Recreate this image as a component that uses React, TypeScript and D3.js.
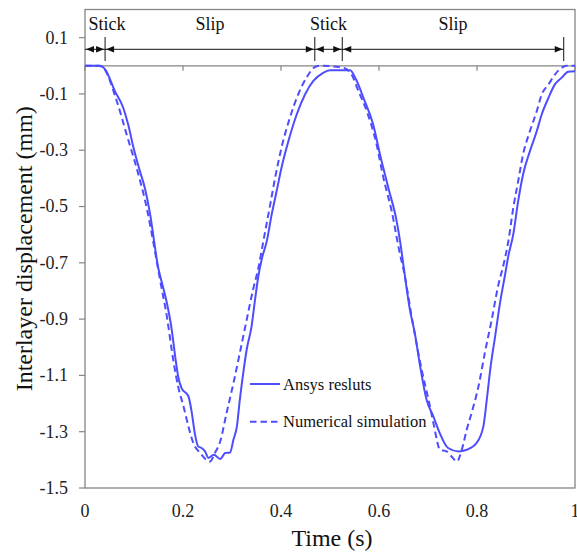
import React from "react";
import * as d3 from "d3";

const ansysT = [0, 0.031, 0.041, 0.061, 0.078, 0.088, 0.099, 0.112, 0.122, 0.133, 0.143, 0.148, 0.157, 0.167, 0.177, 0.184, 0.19, 0.197, 0.211, 0.218, 0.224, 0.231, 0.238, 0.245, 0.252, 0.263, 0.276, 0.286, 0.296, 0.303, 0.31, 0.316, 0.323, 0.33, 0.34, 0.347, 0.354, 0.361, 0.371, 0.381, 0.391, 0.401, 0.415, 0.432, 0.449, 0.466, 0.486, 0.5, 0.541, 0.553, 0.568, 0.588, 0.602, 0.619, 0.636, 0.643, 0.65, 0.663, 0.673, 0.684, 0.697, 0.711, 0.724, 0.741, 0.762, 0.779, 0.799, 0.813, 0.82, 0.827, 0.837, 0.847, 0.857, 0.864, 0.874, 0.884, 0.894, 0.908, 0.922, 0.932, 0.946, 0.959, 0.973, 0.986, 1.0];
const ansysV = [0, 0, -0.013, -0.09, -0.149, -0.208, -0.291, -0.374, -0.433, -0.528, -0.647, -0.705, -0.771, -0.842, -0.937, -1.032, -1.103, -1.145, -1.174, -1.233, -1.305, -1.352, -1.358, -1.37, -1.393, -1.382, -1.397, -1.376, -1.374, -1.328, -1.281, -1.186, -1.091, -1.008, -0.925, -0.831, -0.745, -0.685, -0.623, -0.528, -0.446, -0.362, -0.268, -0.173, -0.102, -0.054, -0.025, -0.016, -0.016, -0.048, -0.113, -0.208, -0.315, -0.433, -0.552, -0.623, -0.71, -0.866, -0.949, -1.068, -1.186, -1.246, -1.305, -1.358, -1.37, -1.364, -1.34, -1.281, -1.186, -1.079, -0.961, -0.842, -0.745, -0.675, -0.599, -0.481, -0.386, -0.303, -0.232, -0.173, -0.113, -0.066, -0.042, -0.021, -0.019];

const numT = [0, 0.027, 0.037, 0.065, 0.085, 0.109, 0.126, 0.139, 0.146, 0.153, 0.167, 0.18, 0.19, 0.201, 0.211, 0.221, 0.235, 0.255, 0.265, 0.276, 0.289, 0.303, 0.316, 0.33, 0.343, 0.354, 0.364, 0.378, 0.388, 0.401, 0.418, 0.435, 0.452, 0.469, 0.48, 0.527, 0.544, 0.558, 0.575, 0.595, 0.609, 0.626, 0.643, 0.65, 0.67, 0.687, 0.701, 0.711, 0.718, 0.724, 0.738, 0.748, 0.759, 0.769, 0.779, 0.789, 0.803, 0.816, 0.83, 0.843, 0.855, 0.864, 0.874, 0.884, 0.894, 0.908, 0.922, 0.932, 0.946, 0.959, 0.973, 0.982, 1.0];
const numV = [0, 0, -0.007, -0.126, -0.244, -0.386, -0.505, -0.623, -0.69, -0.759, -0.89, -1.044, -1.139, -1.21, -1.281, -1.34, -1.376, -1.406, -1.376, -1.334, -1.233, -1.127, -1.02, -0.902, -0.795, -0.717, -0.623, -0.493, -0.398, -0.291, -0.185, -0.102, -0.042, -0.005, 0, -0.007, -0.031, -0.09, -0.161, -0.279, -0.398, -0.517, -0.671, -0.724, -0.925, -1.079, -1.186, -1.269, -1.328, -1.364, -1.37, -1.388, -1.406, -1.364, -1.293, -1.233, -1.139, -1.02, -0.902, -0.783, -0.7, -0.623, -0.505, -0.41, -0.315, -0.232, -0.161, -0.102, -0.066, -0.031, -0.007, 0, 0];

const xTicks = [0, 0.2, 0.4, 0.6, 0.8, 1];
const xTickLabels = ["0", "0.2", "0.4", "0.6", "0.8", "1"];
const yTicks = [-1.5, -1.3, -1.1, -0.9, -0.7, -0.5, -0.3, -0.1, 0.1];
const yTickLabels = ["-1.5", "-1.3", "-1.1", "-0.9", "-0.7", "-0.5", "-0.3", "-0.1", "0.1"];
const phaseBounds = [0, 0.041, 0.469, 0.525, 0.977];
const phaseLabels = ["Stick", "Slip", "Stick", "Slip"];
const seriesNames = ["Ansys resluts", "Numerical simulation"];

const W = 577, H = 556;
const L = 85, R = 575, T = 9.5, B = 488;
const BLUE = "#4d4dff";
const FONT = "'Liberation Serif', 'Times New Roman', serif";

export default function App() {
  const x = d3.scaleLinear().domain([0, 1]).range([L, R]);
  const y = d3.scaleLinear().domain([-1.5, 0.2]).range([B, T]);
  const gen = d3.line<[number, number]>().x(d => x(d[0])).y(d => y(d[1])).curve(d3.curveMonotoneX);
  const ansys = ansysT.map((t, i) => [t, ansysV[i]] as [number, number]);
  const num = numT.map((t, i) => [t, numV[i]] as [number, number]);
  const y0 = y(0);
  const arrowY = 49.3;
  const ah = 8, aw = 3.2;

  return (
    <svg width={W} height={H} style={{ position: "absolute", left: 0, top: 0, background: "#fff" }} fontFamily={FONT}>
      <rect x={L} y={T} width={R - L} height={B - T} fill="none" stroke="#858585" strokeWidth={1.3} />
      {yTicks.map((v, i) => (
        <g key={"yt" + i}>
          <line x1={L - 6} x2={L} y1={y(v)} y2={y(v)} stroke="#858585" strokeWidth={1.2} />
          <text x={68} y={y(v)} dy="0.33em" textAnchor="end" fontSize={18} fill="#222">{yTickLabels[i]}</text>
        </g>
      ))}
      <line x1={L} x2={R} y1={y0} y2={y0} stroke="#858585" strokeWidth={1.3} />
      {xTicks.map((v, i) => (
        <g key={"xt" + i}>
          <line x1={x(v)} x2={x(v)} y1={y0} y2={y0 + 5} stroke="#858585" strokeWidth={1.2} />
          <text x={x(v)} y={516.5} textAnchor="middle" fontSize={18} fill="#222">{xTickLabels[i]}</text>
        </g>
      ))}
      <text x={(L + R) / 2 + 2} y={546} textAnchor="middle" fontSize={24} fill="#111">Time (s)</text>
      <text transform={`translate(32,${(T + B) / 2}) rotate(-90)`} textAnchor="middle" fontSize={24} fill="#111">Interlayer displacement (mm)</text>

      <line x1={x(phaseBounds[0])} x2={x(phaseBounds[phaseBounds.length - 1])} y1={arrowY} y2={arrowY} stroke="#111" strokeWidth={1} />
      {phaseBounds.slice(1).map((b, i) => (
        <line key={"pb" + i} x1={x(b)} x2={x(b)} y1={37} y2={61} stroke="#111" strokeWidth={1} />
      ))}
      {phaseLabels.map((lab, i) => {
        const a = x(phaseBounds[i]) + 1;
        const b = x(phaseBounds[i + 1]) - 1;
        return (
          <g key={"ph" + i}>
            <path d={`M${a},${arrowY}L${a + ah},${arrowY - aw}L${a + ah},${arrowY + aw}Z`} fill="#111" />
            <path d={`M${b},${arrowY}L${b - ah},${arrowY - aw}L${b - ah},${arrowY + aw}Z`} fill="#111" />
            <text x={(x(phaseBounds[i]) + x(phaseBounds[i + 1])) / 2 + (i === 0 ? 12 : 0)} y={30} textAnchor="middle" fontSize={18} fill="#111">{lab}</text>
          </g>
        );
      })}

      <path d={gen(ansys) || ""} fill="none" stroke={BLUE} strokeWidth={2} strokeLinejoin="round" />
      <path d={gen(num) || ""} fill="none" stroke={BLUE} strokeWidth={2} strokeDasharray="6.5,4" />

      <line x1={250} x2={280} y1={384} y2={384} stroke={BLUE} strokeWidth={2} />
      <text x={283} y={389.5} fontSize={16.5} fill="#111">{seriesNames[0]}</text>
      <line x1={250} x2={280} y1={421.7} y2={421.7} stroke={BLUE} strokeWidth={2} strokeDasharray="6.5,4" />
      <text x={283} y={427} fontSize={16.5} fill="#111">{seriesNames[1]}</text>
    </svg>
  );
}
